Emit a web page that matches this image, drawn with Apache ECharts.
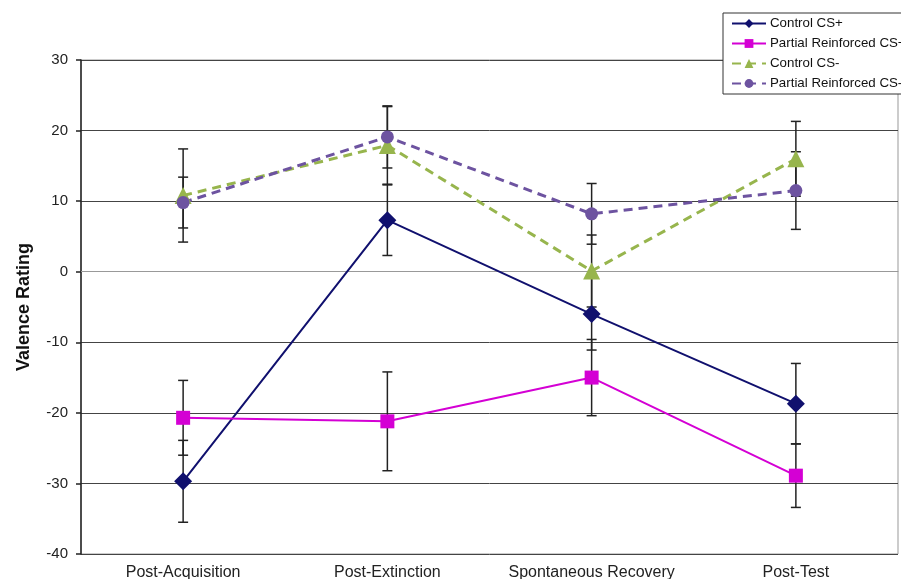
<!DOCTYPE html>
<html>
<head>
<meta charset="utf-8">
<script src="https://cdn.jsdelivr.net/npm/echarts@6/dist/echarts.min.js"></script>
<style>
  html, body { margin: 0; padding: 0; background: #fff; }
  #chart { width: 901px; height: 579px; }
</style>
</head>
<body>
<div id="chart"></div>
<script>
// Test phases along the x axis
const phases = ['Post-Acquisition', 'Post-Extinction', 'Spontaneous Recovery', 'Post-Test'];

// Mean valence ratings per group
const controlCSPlus = [-29.7, 7.3, -6.0, -18.7];
const partialCSPlus = [-20.7, -21.2, -15.0, -28.9];
const controlCSMinus = [10.8, 17.9, 0.1, 16.0];
const partialCSMinus = [9.8, 19.1, 8.2, 11.5];

// Error bar half-widths (SEM) per group
const controlCSPlusErr = [5.8, 5.0, 5.1, 5.7];
const partialCSPlusErr = [5.3, 7.0, 5.4, 4.5];
const controlCSMinusErr = [6.6, 5.5, 5.1, 5.3];
const partialCSMinusErr = [3.6, 4.4, 4.3, 5.5];

// Value axis ticks
const yMin = -40, yMax = 30, yStep = 10;

const FONT = "Arial, 'Liberation Sans', sans-serif";

function errorSeries(name, means, errs) {
  return {
    name: name,
    type: 'custom',
    z: 1,
    silent: true,
    data: means.map((m, i) => [i, m - errs[i], m + errs[i]]),
    renderItem: function (params, api) {
      const lo = api.coord([api.value(0), api.value(1)]);
      const hi = api.coord([api.value(0), api.value(2)]);
      const cap = 5;
      const style = { stroke: '#222', lineWidth: 1.5 };
      return {
        type: 'group',
        children: [
          { type: 'line', shape: { x1: lo[0], y1: lo[1], x2: hi[0], y2: hi[1] }, style: style },
          { type: 'line', shape: { x1: lo[0] - cap, y1: lo[1], x2: lo[0] + cap, y2: lo[1] }, style: style },
          { type: 'line', shape: { x1: hi[0] - cap, y1: hi[1], x2: hi[0] + cap, y2: hi[1] }, style: style }
        ]
      };
    }
  };
}

function lineSeries(name, data, color, symbol, size, dashed) {
  return {
    name: name,
    type: 'line',
    z: 3,
    data: data,
    symbol: symbol,
    symbolSize: size,
    showAllSymbol: true,
    itemStyle: { color: color, borderWidth: 0 },
    lineStyle: dashed
      ? { color: color, width: 3, type: [9, 6] }
      : { color: color, width: 2 }
  };
}

const chart = echarts.init(document.getElementById('chart'), null, { renderer: 'canvas' });

chart.setOption({
  animation: false,
  backgroundColor: '#fff',
  textStyle: { fontFamily: FONT },
  grid: {
    left: 81, right: 3, top: 60, bottom: 25,
    containLabel: false,
    outerBoundsMode: 'none',
    show: true, borderColor: '#999', borderWidth: 1, backgroundColor: '#fff'
  },
  legend: {
    orient: 'vertical',
    left: 723, top: 13,
    data: ['Control CS+', 'Partial Reinforced CS+', 'Control CS-', 'Partial Reinforced CS-'],
    backgroundColor: '#fff',
    borderColor: '#333', borderWidth: 1,
    padding: [4, 40, 4, 8],
    itemWidth: 34, itemHeight: 11, itemGap: 7,
    textStyle: { fontFamily: FONT, fontSize: 13.3, color: '#111', padding: [0, 0, 0, -1] }
  },
  xAxis: {
    type: 'category',
    data: phases,
    boundaryGap: true,
    axisLine: { show: true, lineStyle: { color: '#999', width: 1 } },
    axisTick: { show: false },
    axisLabel: { fontFamily: FONT, fontSize: 16, color: '#222', margin: 11, interval: 0 }
  },
  yAxis: {
    type: 'value',
    min: yMin, max: yMax, interval: yStep,
    name: 'Valence Rating',
    nameLocation: 'middle',
    nameGap: 48,
    nameTextStyle: { fontFamily: FONT, fontSize: 18, fontWeight: 'bold', color: '#111' },
    axisLine: { show: true, lineStyle: { color: '#222', width: 1.5 } },
    axisTick: { show: true, inside: false, length: 5, lineStyle: { color: '#222', width: 1.5 } },
    axisLabel: { fontFamily: FONT, fontSize: 15, color: '#222', margin: 13 },
    splitLine: { show: true, lineStyle: { color: '#444', width: 1 } }
  },
  series: [
    errorSeries('err-ccsp', controlCSPlus, controlCSPlusErr),
    errorSeries('err-pcsp', partialCSPlus, partialCSPlusErr),
    errorSeries('err-ccsm', controlCSMinus, controlCSMinusErr),
    errorSeries('err-pcsm', partialCSMinus, partialCSMinusErr),
    lineSeries('Control CS+', controlCSPlus, '#10106e', 'diamond', 18, false),
    lineSeries('Partial Reinforced CS+', partialCSPlus, '#d400d4', 'rect', 14, false),
    lineSeries('Control CS-', controlCSMinus, '#97b54d', 'triangle', 17, true),
    lineSeries('Partial Reinforced CS-', partialCSMinus, '#6d53a0', 'circle', 13, true)
  ]
});
</script>
</body>
</html>
